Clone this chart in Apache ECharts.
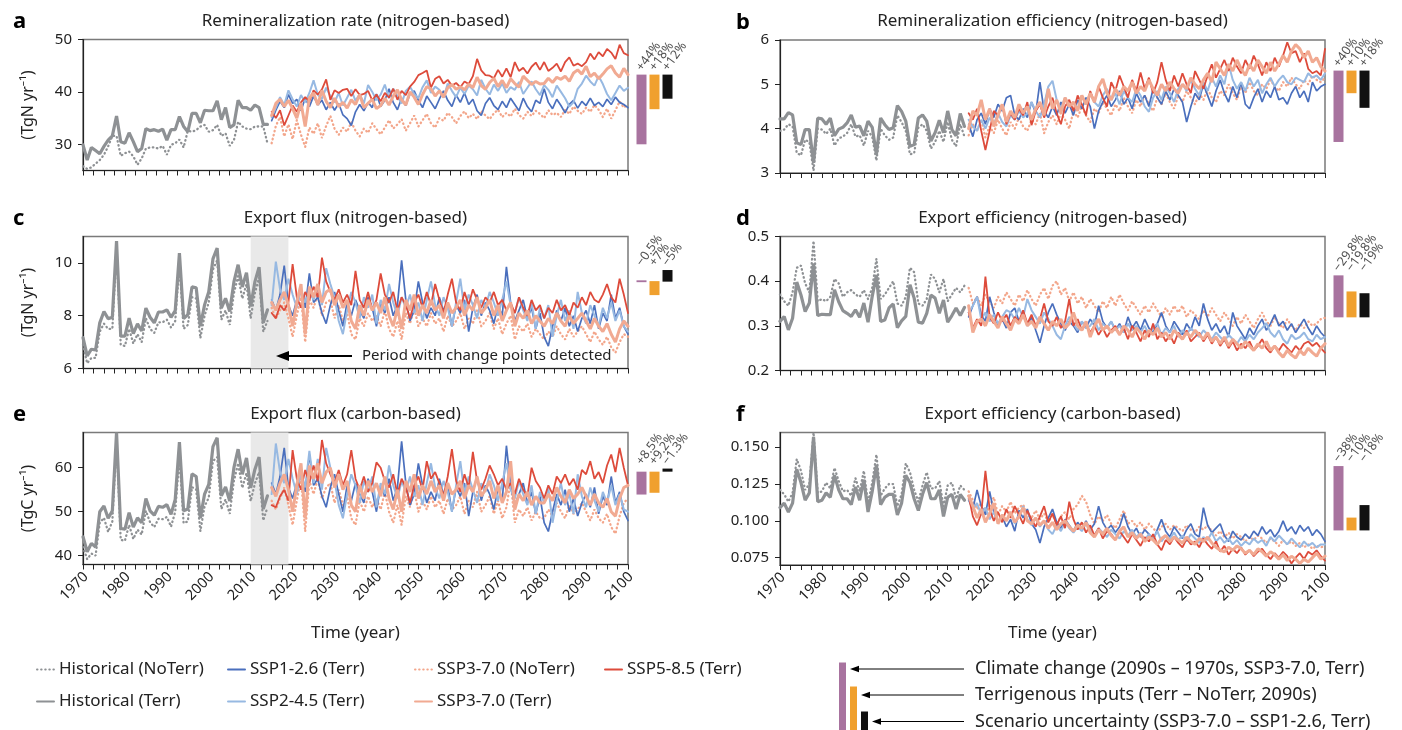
<!DOCTYPE html>
<html>
<head>
<meta charset="utf-8">
<script src="https://cdn.jsdelivr.net/npm/echarts@6/dist/echarts.min.js"></script>
<style>
html, body { margin: 0; padding: 0; background: #fff; }
#main { width: 1402px; height: 730px; }
</style>
</head>
<body>
<div id="main"></div>
<script>
// years: historical 1970-2014, scenarios 2015-2100
var histStart = 1970, histEnd = 2014, sspStart = 2015, sspEnd = 2100;
var xLabels = [1970, 1980, 1990, 2000, 2010, 2020, 2030, 2040, 2050, 2060, 2070, 2080, 2090, 2100];

// ---- a: remineralization rate (TgN/yr)
var aTicks = [30, 40, 50];
var aHistNoTerr = [25.8,25.3,25.6,26.3,27.0,28.0,29.6,31.6,31.6,27.8,
  28.3,28.6,27.7,26.1,27.3,29.2,29.4,29.4,29.2,29.7,
  28.0,29.9,30.2,30.9,29.4,32.6,32.4,32.7,33.4,33.7,
  32.4,32.7,33.7,31.6,32.1,29.7,30.8,34.3,33.4,33.0,
  32.9,33.4,33.4,33.4,30.2];
var aHistTerr = [29.9,27.0,29.4,28.8,28.2,29.6,30.8,31.6,35.4,30.5,
  30.2,32.2,30.5,28.6,29.2,33.0,32.6,32.8,32.5,32.9,
  30.8,32.8,32.8,35.3,33.4,32.4,35.9,35.9,34.1,36.5,
  36.4,36.4,38.3,34.7,37.0,33.2,33.7,38.4,37.0,37.0,
  36.5,37.5,37.0,33.8,33.8];
var a126 = [34.5,36.5,38.2,37.0,39.5,37.8,38.6,36.4,38.8,37.2,
  39.2,37.5,38.4,36.6,38.0,36.5,37.8,35.6,34.9,33.6,
  36.2,37.6,36.4,38.0,37.0,39.6,37.2,38.4,40.6,38.0,
  36.6,38.8,37.4,39.6,40.2,38.4,37.0,39.2,38.0,36.8,
  38.6,40.2,38.4,37.2,39.4,38.0,39.8,37.6,38.6,36.4,
  35.5,37.8,38.9,37.4,36.6,38.2,37.0,38.8,37.6,36.4,
  38.8,37.2,36.2,38.4,37.8,40.6,38.0,36.8,38.6,37.4,
  36.0,37.6,38.4,36.9,38.2,37.4,38.8,37.4,38.0,37.2,
  38.6,37.6,39.0,38.0,37.6,37.0];
var a245 = [35.2,37.0,39.0,37.5,40.3,38.6,37.2,39.4,38.0,39.8,
  42.2,39.5,38.6,40.8,39.2,38.0,39.8,37.4,38.9,40.4,
  38.3,39.6,37.8,41.3,40.0,38.4,39.5,41.4,38.8,40.6,
  39.2,37.8,40.2,41.0,39.6,38.8,40.9,42.2,39.8,41.0,
  40.4,38.9,41.6,40.2,39.0,40.8,39.6,41.2,40.5,39.3,
  42.3,40.6,39.5,41.4,40.2,41.6,39.8,40.9,40.4,41.9,
  39.6,40.8,42.0,40.5,39.4,41.3,40.4,39.0,41.2,40.0,
  38.8,37.2,38.0,40.6,41.6,43.1,42.0,41.2,43.0,41.5,
  39.6,38.4,39.8,41.2,40.2,40.8];
var a370No = [30.2,33.5,35.2,31.5,33.8,31.0,34.6,31.8,29.5,33.2,
  32.0,34.0,31.2,33.5,35.4,33.0,31.8,33.2,32.4,34.2,
  32.6,31.5,33.0,32.2,34.0,32.9,31.9,33.2,34.6,33.0,
  33.8,34.8,32.6,34.0,35.5,33.4,34.6,35.8,34.0,33.2,
  35.0,34.5,36.0,35.2,34.0,35.4,36.3,35.0,35.8,34.8,
  36.4,35.5,34.8,35.9,36.6,35.2,36.0,35.3,36.8,35.6,
  34.9,36.2,35.4,36.4,35.8,35.0,36.5,35.6,36.0,35.2,
  36.6,35.8,37.2,36.4,35.8,37.0,36.2,37.5,36.6,35.2,
  36.8,34.9,36.5,38.2,37.0,37.6];
var a585 = [36.2,35.0,36.5,33.6,35.5,37.4,36.2,38.0,39.0,38.2,
  40.3,39.5,40.5,42.4,38.5,40.3,39.8,40.4,40.6,39.2,
  40.5,39.4,39.6,40.2,38.4,39.5,38.2,39.8,38.9,40.6,
  38.5,40.2,39.4,41.0,41.9,43.2,43.6,44.1,40.8,42.5,
  43.0,41.6,42.3,41.2,41.7,40.9,42.0,41.5,43.0,46.3,
  44.1,43.2,43.1,42.6,44.2,42.9,44.5,42.8,45.7,44.0,
  44.6,43.5,44.8,45.6,44.2,45.7,44.0,44.6,45.4,43.9,
  45.7,46.6,45.0,45.4,44.9,45.7,47.3,46.2,47.6,46.8,
  48.2,47.5,46.3,49.0,47.4,47.0];
var a370 = [35.5,37.8,38.6,37.2,38.4,36.8,35.0,37.9,33.4,38.9,
  39.8,37.5,40.3,38.2,37.0,38.8,37.2,38.0,36.9,38.5,
  37.6,39.5,37.0,37.8,38.6,36.8,37.4,38.8,37.5,39.2,
  40.4,38.5,37.5,40.0,39.0,37.6,39.5,41.0,40.6,39.2,
  40.2,39.0,40.8,41.4,40.5,41.0,40.4,41.5,40.8,42.8,
  41.2,40.5,41.8,42.6,41.0,42.2,40.8,42.5,41.6,40.9,
  43.0,42.2,41.4,42.0,41.5,41.6,42.6,41.8,42.8,42.4,
  43.0,42.0,43.6,44.2,43.4,44.9,42.9,43.6,42.5,43.4,
  44.4,45.0,43.6,42.8,44.5,43.3];
var aBarLo = [30.0, 36.7, 38.7];
var aBarHi = [43.3, 43.3, 43.3];
var aBarTxt = ['+44%', '+18%', '+12%'];

// ---- b: remineralization efficiency
var bTicks = [3, 4, 5, 6];
var bHistNoTerr = [3.95,3.98,4.10,4.05,3.45,3.40,3.75,3.70,3.05,4.00,
  3.98,3.88,4.00,3.62,3.78,3.82,3.90,4.10,3.82,3.85,
  3.62,3.95,3.82,3.28,4.00,3.85,3.75,3.80,4.30,4.15,
  3.95,3.42,3.45,4.02,4.10,3.95,3.55,3.70,3.95,3.70,
  4.15,3.75,3.60,4.10,3.82];
var bHistTerr = [4.22,4.22,4.36,4.31,3.68,3.64,3.98,3.98,3.23,4.24,
  4.22,4.10,4.24,3.84,3.99,4.03,4.13,4.31,4.03,4.06,
  3.84,4.17,4.03,3.42,4.24,4.09,3.98,4.02,4.52,4.39,
  4.17,3.60,3.64,4.24,4.31,4.17,3.72,3.91,4.19,3.91,
  4.40,3.98,3.84,4.34,4.05];
var b126 = [4.10,3.82,4.20,4.35,4.10,4.45,4.25,4.55,4.40,4.70,
  4.75,4.30,4.20,4.45,4.25,4.60,4.35,5.05,4.40,4.25,
  4.50,4.30,4.60,4.35,4.55,4.30,4.65,4.45,4.70,4.50,
  4.00,4.40,4.60,4.75,4.50,4.65,4.85,4.55,4.70,4.45,
  4.80,4.60,4.75,4.50,4.90,4.70,4.55,4.85,4.65,4.90,
  4.75,4.60,4.15,4.50,4.80,4.65,5.00,4.75,4.50,4.85,
  5.10,4.80,4.60,4.95,4.70,5.05,4.55,4.45,4.70,4.90,
  4.60,4.85,4.70,4.95,4.65,4.70,4.55,4.80,4.95,4.70,
  4.85,4.60,5.05,4.85,4.95,5.00];
var b245 = [4.20,4.05,3.95,4.20,4.00,4.25,4.10,4.35,4.15,4.05,
  4.30,4.20,4.40,4.25,4.35,4.60,4.40,4.25,4.55,4.95,
  5.08,4.65,4.45,4.70,4.50,4.60,4.45,4.75,4.55,4.80,
  4.60,4.50,4.75,4.90,4.65,4.80,4.55,4.85,4.70,4.60,
  4.90,4.75,4.50,4.38,4.70,4.85,4.65,4.95,4.80,4.60,
  4.90,5.00,4.85,5.10,4.90,4.75,5.05,4.85,5.15,4.95,
  5.20,5.00,5.46,5.10,4.90,5.05,4.85,5.15,4.95,5.10,
  4.80,5.00,5.15,4.95,5.10,5.20,5.05,5.00,5.15,5.10,
  5.05,5.25,5.15,5.20,5.10,5.25];
var b370No = [3.85,4.10,3.95,4.20,3.80,4.05,3.90,4.20,4.00,3.85,
  4.15,4.00,4.25,4.05,3.95,4.20,4.10,4.35,3.90,4.15,
  4.30,4.10,4.35,4.20,4.00,4.40,4.25,4.50,4.30,4.15,
  4.45,4.35,4.60,4.45,4.30,4.55,4.40,4.70,4.50,4.35,
  4.65,4.50,4.75,4.55,4.40,4.70,4.55,4.80,4.60,4.45,
  4.75,4.60,4.85,4.70,4.55,4.80,4.65,4.90,4.70,4.60,
  4.85,4.75,5.00,4.80,4.65,4.95,4.80,5.05,4.85,4.75,
  5.00,4.90,5.10,4.95,4.85,5.05,4.95,5.15,5.00,4.90,
  5.10,5.00,5.20,5.10,5.05,5.15];
var b585 = [4.35,4.20,4.45,3.95,3.52,3.95,4.40,4.30,4.55,4.10,
  4.35,4.20,4.45,4.30,4.60,4.08,4.40,4.55,4.25,4.50,
  4.70,4.35,4.10,4.50,4.65,4.40,4.75,4.55,4.30,4.85,
  4.60,4.95,4.70,4.50,5.05,4.85,5.20,4.95,4.70,5.10,
  4.85,5.27,4.90,5.15,4.80,5.05,5.50,5.10,4.85,5.20,
  4.95,5.25,5.00,4.80,5.30,5.10,4.90,5.20,5.45,5.15,
  5.35,5.55,5.30,5.60,5.40,5.25,5.55,5.35,5.65,5.45,
  5.20,5.50,5.30,5.60,5.40,5.65,5.95,5.70,5.75,5.50,
  5.70,5.35,5.25,5.30,5.20,5.80];
var b370 = [4.00,4.40,4.30,4.65,4.20,4.45,4.05,4.30,4.55,4.15,
  4.40,4.25,4.55,4.35,4.50,4.20,4.45,4.60,4.30,4.90,
  4.45,4.65,4.35,4.70,4.50,4.60,4.40,4.75,4.55,4.80,
  4.60,4.95,5.12,4.80,4.65,4.90,4.75,4.95,4.85,5.05,
  4.80,4.95,4.85,5.10,4.90,4.75,5.00,4.85,5.05,4.90,
  4.80,5.00,4.90,5.15,5.00,4.90,5.10,5.25,5.05,5.50,
  5.35,5.20,5.45,5.30,5.55,5.35,5.20,5.45,5.30,5.55,
  5.40,5.25,5.50,5.30,5.46,5.65,5.50,5.75,5.90,5.80,
  5.60,5.75,5.50,5.60,5.40,5.30];
var bBarLo = [3.70, 4.80, 4.47];
var bBarHi = [5.31, 5.31, 5.31];
var bBarTxt = ['+40%', '+10%', '+18%'];

// ---- c: export flux, nitrogen (TgN/yr)
var cTicks = [6, 8, 10];
var cHistNoTerr = [6.90,6.20,6.40,6.40,7.40,7.70,7.50,7.50,10.50,6.90,
  6.85,7.50,6.95,7.30,7.00,7.90,7.50,7.35,7.75,7.75,
  7.85,7.55,7.80,9.95,7.50,7.65,8.70,8.65,7.15,8.00,
  8.50,9.75,10.10,7.85,8.20,7.65,8.85,9.50,8.65,9.20,
  7.90,8.85,9.45,7.40,7.80];
var cHistTerr = [7.17,6.48,6.73,6.70,7.73,8.16,7.89,7.94,10.83,7.23,
  7.23,7.91,7.32,7.69,7.42,8.29,7.94,7.73,8.14,8.14,
  8.22,7.94,8.19,10.37,7.89,8.04,9.09,9.06,7.60,8.41,
  8.91,10.15,10.56,8.29,8.66,8.16,9.28,9.93,9.09,9.63,
  8.35,9.28,9.84,7.73,8.22];
var c126 = [8.6,8.2,8.8,9.9,8.4,8.0,8.6,8.9,8.3,9.6,
  8.5,8.7,8.1,7.7,8.4,8.9,8.2,7.6,8.5,8.0,
  8.6,8.2,7.9,8.7,8.3,7.6,8.5,8.1,8.7,8.0,
  8.4,10.1,8.6,7.8,8.2,9.3,8.5,7.9,8.3,8.0,
  8.7,8.2,8.5,7.6,8.4,8.1,8.6,7.4,8.3,8.8,
  8.0,8.5,8.2,7.7,8.4,8.0,9.85,8.5,7.8,8.2,
  8.6,7.9,8.3,7.5,8.1,7.2,6.85,7.6,8.2,7.8,
  8.3,7.6,8.0,7.4,7.9,8.2,7.7,8.4,7.5,8.1,
  7.8,8.8,7.9,8.3,7.6,7.3];
var c245 = [8.4,10.05,9.0,8.6,9.4,8.8,8.3,9.0,8.5,8.9,
  8.6,9.1,8.4,9.8,9.2,8.7,7.8,7.3,8.2,8.9,
  8.5,7.9,8.7,8.3,8.8,7.7,8.6,8.2,9.2,8.5,
  8.0,8.7,8.3,8.8,8.1,8.5,7.8,8.6,9.3,8.4,
  8.0,8.7,8.3,7.6,8.5,9.4,8.2,8.8,8.4,7.9,
  8.6,8.3,8.9,8.5,8.0,8.6,9.3,8.4,8.1,8.7,
  8.2,7.8,8.5,7.5,8.3,7.9,8.4,7.2,8.0,8.6,
  7.8,8.2,7.5,8.9,8.1,7.7,8.4,8.0,7.6,8.3,
  7.9,8.5,7.8,8.2,7.6,7.4];
var c370No = [8.3,7.9,8.2,8.5,7.9,7.2,8.0,8.7,7.0,8.6,
  8.3,8.8,8.0,8.5,8.6,7.9,8.4,7.8,8.1,7.3,
  7.1,7.9,7.6,8.1,7.8,8.0,7.6,8.2,7.5,7.2,
  7.8,7.1,8.1,7.7,8.3,7.6,7.9,7.6,8.1,7.7,
  7.9,7.4,8.0,7.6,7.8,8.1,7.5,7.9,7.7,8.2,
  7.6,7.8,8.1,7.5,7.9,7.3,7.7,8.0,7.1,7.6,
  7.4,7.7,7.2,7.5,7.3,7.1,7.4,7.2,7.6,7.3,
  7.1,7.5,7.2,7.4,7.6,7.3,7.0,7.4,7.1,6.9,
  7.2,6.8,6.6,7.0,7.3,7.2];
var c585 = [8.1,7.9,8.4,8.2,8.5,9.95,8.7,8.3,8.9,8.6,
  9.1,8.7,10.2,9.3,8.9,8.6,9.0,8.5,8.8,8.4,
  9.7,8.6,8.3,8.9,8.2,8.6,9.6,8.8,8.5,8.9,
  8.2,8.7,8.4,7.9,8.5,8.8,8.3,8.9,8.4,9.2,
  8.6,8.1,8.8,9.4,8.5,8.2,8.9,8.4,9.0,8.6,
  8.3,8.7,8.5,8.9,8.4,8.6,8.2,8.5,8.1,8.7,
  8.3,8.0,8.6,8.2,8.4,7.9,8.3,8.1,8.6,8.2,
  8.4,8.0,8.5,8.3,8.7,8.4,8.9,8.6,8.5,8.8,
  9.2,8.7,8.5,9.4,8.8,8.1];
var c370 = [8.5,8.2,8.6,8.9,8.4,7.6,8.5,9.2,7.3,9.1,
  8.7,9.2,8.5,8.9,9.0,8.4,8.8,8.3,8.6,7.8,
  7.5,8.4,8.0,8.6,8.2,8.5,8.1,8.7,8.0,7.6,
  8.3,7.5,8.6,8.2,8.8,8.0,8.4,8.1,8.6,8.2,
  8.4,7.9,8.5,8.1,8.3,8.6,8.0,8.4,8.2,8.7,
  8.1,8.3,8.6,8.0,8.4,7.8,8.2,8.5,7.6,8.1,
  7.9,8.2,7.7,8.0,7.8,7.6,7.9,7.7,8.1,7.8,
  7.6,8.0,7.7,7.9,8.1,7.8,7.5,7.9,7.6,7.4,
  7.7,7.3,7.0,7.5,7.8,7.6];
var cBarLo = [9.27, 8.78, 9.29];
var cBarHi = [9.34, 9.31, 9.73];
var cBarTxt = ['\u22120.5%', '+7%', '\u22125%'];

// ---- d: export efficiency, nitrogen
var dTicks = [0.2, 0.3, 0.4, 0.5];
var dHistNoTerr = [0.370,0.355,0.345,0.375,0.430,0.435,0.395,0.375,0.490,0.355,
  0.360,0.355,0.365,0.405,0.395,0.365,0.375,0.380,0.370,0.365,
  0.380,0.360,0.385,0.450,0.360,0.370,0.385,0.400,0.350,0.345,
  0.365,0.430,0.420,0.350,0.345,0.360,0.415,0.405,0.375,0.405,
  0.355,0.370,0.385,0.375,0.390];
var dHistTerr = [0.310,0.321,0.291,0.317,0.398,0.369,0.332,0.351,0.440,0.323,
  0.326,0.325,0.325,0.381,0.354,0.334,0.328,0.321,0.336,0.319,
  0.351,0.308,0.366,0.414,0.310,0.313,0.340,0.349,0.296,0.311,
  0.321,0.392,0.362,0.308,0.306,0.328,0.369,0.362,0.328,0.358,
  0.308,0.323,0.340,0.323,0.341];
var d126 = [0.320,0.345,0.365,0.325,0.310,0.365,0.330,0.300,0.315,0.295,
  0.330,0.340,0.310,0.325,0.300,0.320,0.290,0.262,0.300,0.330,
  0.350,0.325,0.305,0.290,0.310,0.300,0.285,0.310,0.295,0.315,
  0.300,0.345,0.310,0.295,0.310,0.290,0.305,0.285,0.320,0.295,
  0.310,0.290,0.315,0.295,0.285,0.305,0.330,0.300,0.285,0.310,
  0.295,0.280,0.305,0.290,0.320,0.300,0.350,0.315,0.290,0.305,
  0.285,0.300,0.275,0.330,0.300,0.285,0.270,0.295,0.280,0.300,
  0.315,0.290,0.305,0.325,0.300,0.310,0.290,0.305,0.285,0.300,
  0.315,0.295,0.280,0.300,0.285,0.275];
var d245 = [0.330,0.345,0.365,0.315,0.330,0.310,0.325,0.305,0.320,0.335,
  0.330,0.315,0.340,0.320,0.360,0.335,0.320,0.305,0.330,0.315,
  0.300,0.280,0.270,0.300,0.320,0.305,0.290,0.310,0.295,0.300,
  0.315,0.290,0.305,0.295,0.310,0.290,0.300,0.285,0.305,0.290,
  0.300,0.285,0.300,0.280,0.295,0.305,0.280,0.295,0.285,0.300,
  0.275,0.290,0.280,0.295,0.285,0.275,0.290,0.280,0.270,0.285,
  0.275,0.265,0.280,0.270,0.260,0.275,0.265,0.280,0.270,0.285,
  0.295,0.306,0.285,0.275,0.290,0.270,0.260,0.280,0.270,0.275,
  0.285,0.270,0.265,0.280,0.270,0.275];
var d370No = [0.385,0.350,0.365,0.345,0.370,0.355,0.340,0.365,0.350,0.375,
  0.360,0.345,0.370,0.355,0.380,0.360,0.345,0.370,0.385,0.360,
  0.390,0.400,0.370,0.385,0.355,0.375,0.350,0.365,0.340,0.360,
  0.345,0.330,0.355,0.340,0.365,0.345,0.370,0.350,0.335,0.355,
  0.340,0.325,0.345,0.330,0.350,0.335,0.320,0.340,0.325,0.345,
  0.330,0.345,0.320,0.335,0.325,0.315,0.335,0.320,0.340,0.325,
  0.310,0.330,0.315,0.300,0.320,0.305,0.325,0.310,0.295,0.315,
  0.330,0.310,0.300,0.320,0.305,0.295,0.315,0.300,0.290,0.305,
  0.295,0.310,0.300,0.305,0.315,0.318];
var d585 = [0.330,0.295,0.315,0.300,0.410,0.320,0.305,0.330,0.310,0.325,
  0.300,0.320,0.310,0.335,0.305,0.325,0.300,0.315,0.350,0.310,
  0.300,0.320,0.295,0.310,0.360,0.300,0.315,0.290,0.305,0.285,
  0.300,0.280,0.295,0.275,0.290,0.300,0.280,0.295,0.270,0.300,
  0.285,0.265,0.290,0.275,0.305,0.270,0.285,0.265,0.280,0.260,
  0.285,0.270,0.290,0.265,0.275,0.285,0.265,0.280,0.260,0.275,
  0.255,0.270,0.250,0.265,0.245,0.260,0.250,0.265,0.245,0.255,
  0.270,0.250,0.240,0.255,0.245,0.260,0.250,0.240,0.255,0.245,
  0.260,0.265,0.255,0.262,0.250,0.240];
var d370 = [0.345,0.285,0.310,0.315,0.300,0.325,0.310,0.295,0.320,0.305,
  0.290,0.315,0.305,0.325,0.300,0.310,0.295,0.320,0.305,0.290,
  0.310,0.300,0.315,0.295,0.305,0.330,0.300,0.290,0.310,0.275,
  0.300,0.315,0.290,0.300,0.285,0.295,0.280,0.300,0.290,0.275,
  0.295,0.285,0.270,0.290,0.280,0.295,0.275,0.285,0.270,0.290,
  0.280,0.270,0.285,0.275,0.290,0.280,0.270,0.285,0.265,0.275,
  0.260,0.275,0.255,0.270,0.260,0.250,0.265,0.255,0.245,0.260,
  0.250,0.265,0.245,0.255,0.240,0.230,0.245,0.235,0.228,0.245,
  0.235,0.250,0.240,0.232,0.250,0.260];
var dBarLo = [0.319, 0.319, 0.319];
var dBarHi = [0.413, 0.377, 0.373];
var dBarTxt = ['\u221229.8%', '\u221219.8%', '\u221219%'];

// ---- e: export flux, carbon (TgC/yr)
var eTicks = [40, 50, 60];
var eHistNoTerr = [42.0,39.2,40.5,40.0,47.5,48.6,45.4,47.8,66.0,43.6,
  43.4,47.0,43.8,45.9,44.8,50.2,47.6,46.5,48.4,48.3,
  48.8,46.6,50.0,62.5,47.4,47.8,55.6,55.0,45.6,51.2,
  53.2,61.5,62.4,50.6,52.8,49.5,57.0,61.0,55.4,58.8,
  52.4,56.4,59.0,48.0,51.0];
var eHistTerr = [44.3,40.9,42.8,42.0,50.0,51.3,48.5,50.2,68.0,46.2,
  46.0,49.8,46.5,48.6,47.5,53.0,50.2,49.2,51.2,51.0,
  51.6,49.4,52.8,65.8,50.2,50.6,58.6,58.0,48.5,54.0,
  56.2,64.8,66.8,53.6,55.6,52.4,60.0,64.2,58.5,62.2,
  55.4,59.6,62.4,50.6,53.6];
var e126 = [56.5,54.0,58.0,64.5,55.5,53.0,56.5,58.5,54.5,63.0,
  56.0,57.5,53.5,51.0,55.5,58.5,54.0,50.0,56.0,52.5,
  56.5,54.0,52.0,57.5,54.5,50.0,56.0,53.5,57.5,52.5,
  55.5,66.0,56.5,51.5,54.0,61.0,56.0,52.0,54.5,52.5,
  57.5,54.0,56.0,50.0,55.5,53.5,56.5,49.0,54.5,58.0,
  52.5,56.0,54.0,50.5,55.5,52.5,65.0,56.0,51.5,54.0,
  56.5,52.0,54.5,49.5,53.5,47.5,45.5,50.0,54.0,51.5,
  55.0,50.0,53.0,49.0,52.0,54.0,51.0,55.5,49.5,53.5,
  51.5,58.0,52.0,54.5,50.0,48.0];
var e245 = [54.0,65.5,59.0,56.5,62.0,57.5,54.0,59.0,55.5,63.8,
  56.5,62.0,55.0,64.5,60.0,57.0,51.5,48.5,54.0,58.5,
  56.0,52.0,57.0,54.5,58.0,51.0,56.5,54.0,60.5,56.0,
  53.0,57.0,54.5,58.0,53.5,56.0,51.5,56.5,61.0,55.5,
  53.0,57.0,54.5,50.0,56.0,61.5,54.0,58.0,55.0,52.0,
  56.5,54.5,58.5,56.0,52.5,56.5,61.0,55.0,53.0,57.0,
  54.0,51.5,56.0,49.5,54.5,52.0,55.5,47.5,52.5,56.5,
  51.5,54.0,49.5,58.5,53.5,51.0,55.5,52.5,50.0,54.5,
  52.0,56.0,51.5,54.0,50.5,50.0];
var e370No = [52.5,50.5,53.0,55.5,51.5,47.0,52.5,57.5,45.5,57.0,
  54.0,57.5,53.0,55.5,56.5,52.0,55.0,51.5,53.5,48.5,
  47.0,52.5,50.0,53.5,51.0,53.0,50.5,54.5,50.0,47.5,
  51.5,47.0,53.5,51.0,55.0,50.0,52.5,50.5,53.5,51.0,
  52.5,49.5,53.0,50.5,51.5,53.5,49.5,52.5,51.0,54.5,
  50.0,51.5,53.5,49.5,52.5,48.5,51.0,57.0,47.5,50.5,
  49.0,51.0,48.0,50.0,48.5,48.5,50.5,49.0,52.0,50.0,
  48.5,51.5,49.5,50.5,52.0,50.0,48.0,50.5,48.5,47.5,
  49.5,46.5,45.0,49.0,52.0,53.0];
var e585 = [51.5,51.0,53.5,55.0,52.5,64.0,57.5,55.0,59.5,56.5,
  60.5,57.0,66.3,61.0,58.5,56.5,59.5,56.0,58.5,64.0,
  57.5,55.0,58.0,54.5,56.5,61.2,60.0,57.0,55.5,58.5,
  54.0,57.5,55.5,52.0,56.0,58.0,55.0,61.5,57.5,59.0,
  56.5,53.5,58.0,64.2,57.0,54.5,58.5,55.5,63.6,57.0,
  55.0,57.5,60.5,58.5,56.0,57.5,55.0,56.5,54.0,57.5,
  55.0,53.5,60.0,57.0,55.5,53.0,56.0,54.0,58.0,56.5,
  58.5,56.0,57.5,55.0,59.5,58.5,61.5,57.5,59.0,56.5,
  60.5,63.0,59.0,64.5,60.0,56.0];
var e370 = [55.5,53.5,56.5,58.5,55.0,50.0,56.0,61.0,48.5,60.5,
  57.5,61.0,56.5,59.0,60.0,55.5,58.5,55.0,57.0,51.5,
  50.0,56.0,53.0,57.0,54.5,56.5,53.5,58.0,53.0,50.5,
  55.0,50.0,57.0,54.5,58.5,53.0,56.0,54.0,57.0,54.5,
  56.0,52.5,56.5,54.0,55.0,57.0,53.0,56.0,54.5,58.0,
  53.5,55.0,57.0,53.0,56.0,52.0,54.5,61.5,50.5,54.0,
  52.5,54.5,51.5,53.5,52.0,52.0,54.0,52.5,55.5,53.5,
  52.0,55.0,53.0,54.0,55.5,53.5,51.5,54.0,52.0,51.0,
  53.0,50.0,49.0,53.0,55.5,56.0];
var eBarLo = [53.9, 54.3, 59.1];
var eBarHi = [59.1, 59.1, 59.8];
var eBarTxt = ['+8.5%', '+9.2%', '\u22121.3%'];

// ---- f: export efficiency, carbon
var fTicks = [0.075, 0.100, 0.125, 0.150];
var fHistNoTerr = [0.121,0.118,0.113,0.119,0.142,0.134,0.121,0.125,0.160,0.119,
  0.120,0.126,0.122,0.136,0.127,0.120,0.121,0.117,0.129,0.120,
  0.134,0.112,0.126,0.145,0.117,0.122,0.125,0.125,0.110,0.118,
  0.139,0.133,0.121,0.113,0.124,0.133,0.122,0.122,0.127,0.110,
  0.124,0.126,0.115,0.124,0.121];
var fHistTerr = [0.109,0.112,0.106,0.112,0.135,0.126,0.114,0.119,0.157,0.113,
  0.114,0.119,0.116,0.131,0.121,0.115,0.115,0.111,0.123,0.114,
  0.128,0.106,0.120,0.138,0.111,0.116,0.118,0.118,0.104,0.112,
  0.131,0.126,0.115,0.107,0.118,0.126,0.115,0.115,0.121,0.103,
  0.116,0.118,0.108,0.118,0.114];
var f126 = [0.114,0.108,0.121,0.110,0.104,0.120,0.106,0.099,0.103,0.096,
  0.101,0.093,0.107,0.102,0.108,0.098,0.094,0.085,0.096,0.102,
  0.108,0.099,0.095,0.101,0.097,0.093,0.099,0.095,0.100,0.094,
  0.098,0.110,0.099,0.094,0.097,0.092,0.096,0.105,0.096,0.091,
  0.095,0.089,0.094,0.091,0.087,0.094,0.101,0.093,0.089,0.096,
  0.092,0.088,0.094,0.098,0.091,0.089,0.109,0.097,0.092,0.095,
  0.098,0.090,0.086,0.093,0.089,0.087,0.091,0.088,0.093,0.090,
  0.096,0.091,0.094,0.089,0.093,0.100,0.093,0.096,0.091,0.097,
  0.093,0.096,0.090,0.094,0.091,0.086];
var f245 = [0.115,0.108,0.112,0.104,0.109,0.101,0.106,0.099,0.104,0.100,
  0.106,0.098,0.103,0.110,0.101,0.097,0.102,0.096,0.100,0.094,
  0.091,0.097,0.093,0.099,0.095,0.092,0.096,0.093,0.098,0.094,
  0.090,0.095,0.092,0.089,0.094,0.091,0.088,0.093,0.090,0.094,
  0.089,0.092,0.087,0.091,0.088,0.093,0.086,0.090,0.088,0.092,
  0.087,0.090,0.086,0.091,0.088,0.085,0.089,0.087,0.092,0.086,
  0.089,0.085,0.088,0.084,0.087,0.083,0.086,0.084,0.088,0.085,
  0.087,0.083,0.089,0.086,0.090,0.087,0.084,0.088,0.085,0.082,
  0.086,0.083,0.085,0.082,0.084,0.084];
var f370No = [0.120,0.114,0.108,0.112,0.104,0.110,0.116,0.104,0.110,0.106,
  0.113,0.105,0.109,0.111,0.104,0.102,0.107,0.101,0.105,0.099,
  0.104,0.098,0.103,0.106,0.101,0.108,0.111,0.117,0.113,0.104,
  0.098,0.103,0.100,0.104,0.098,0.095,0.101,0.107,0.098,0.100,
  0.096,0.099,0.094,0.098,0.095,0.092,0.096,0.098,0.094,0.097,
  0.095,0.093,0.097,0.094,0.092,0.096,0.094,0.097,0.093,0.090,
  0.093,0.089,0.092,0.088,0.091,0.089,0.086,0.089,0.087,0.090,
  0.088,0.085,0.088,0.086,0.083,0.087,0.084,0.086,0.083,0.085,
  0.082,0.084,0.081,0.083,0.082,0.083];
var f585 = [0.117,0.103,0.097,0.105,0.134,0.108,0.100,0.106,0.099,0.108,
  0.102,0.110,0.104,0.098,0.107,0.101,0.096,0.103,0.110,0.099,
  0.105,0.097,0.103,0.095,0.113,0.101,0.094,0.099,0.092,0.097,
  0.090,0.095,0.088,0.093,0.091,0.087,0.093,0.089,0.085,0.091,
  0.087,0.083,0.089,0.086,0.091,0.084,0.080,0.087,0.084,0.089,
  0.085,0.082,0.088,0.084,0.086,0.082,0.088,0.084,0.081,0.086,
  0.079,0.083,0.077,0.081,0.078,0.082,0.077,0.080,0.076,0.079,
  0.081,0.077,0.074,0.078,0.075,0.079,0.076,0.071,0.075,0.078,
  0.074,0.079,0.077,0.080,0.076,0.073];
var f370 = [0.117,0.110,0.102,0.108,0.099,0.105,0.112,0.098,0.104,0.100,
  0.106,0.099,0.103,0.109,0.100,0.098,0.102,0.097,0.100,0.095,
  0.099,0.094,0.098,0.100,0.096,0.093,0.097,0.095,0.099,0.092,
  0.089,0.094,0.091,0.095,0.090,0.087,0.093,0.096,0.089,0.092,
  0.088,0.091,0.086,0.089,0.087,0.084,0.088,0.090,0.086,0.089,
  0.087,0.085,0.089,0.086,0.084,0.088,0.086,0.089,0.085,0.082,
  0.080,0.079,0.082,0.080,0.083,0.081,0.078,0.080,0.077,0.081,
  0.079,0.076,0.079,0.077,0.074,0.077,0.073,0.076,0.074,0.071,
  0.074,0.072,0.075,0.078,0.074,0.076];
var fBarLo = [0.0935, 0.0935, 0.0935];
var fBarHi = [0.1372, 0.1022, 0.1107];
var fBarTxt = ['\u221238%', '\u221210%', '\u221218%'];

var FONT = "'Noto Sans', 'Liberation Sans', sans-serif";
var TXT = '#222';
var barColors = ['#a8739f', '#f0a02e', '#111111'];

var histYears = [], sspYears = [];
for (var yy = histStart; yy <= histEnd; yy++) histYears.push(yy);
for (var yy = sspStart; yy <= sspEnd; yy++) sspYears.push(yy);
function xy(years, vals) {
  return vals.map(function (v, i) { return [years[i], v]; });
}

// one entry per panel; layout in pixels
var panels = [
  {title: 'Remineralization rate (nitrogen-based)', letter: 'a', unit: '(TgN yr\u207B\u00B9)', left: 83, top: 39.5, height: 131,
   min: 25, max: 50, ticks: aTicks, dec: 0, hist: [aHistNoTerr, aHistTerr], ssp: [a126, a245, a370No, a585, a370],
   lo: aBarLo, hi: aBarHi, txt: aBarTxt, xlab: false, shade: false},
  {title: 'Remineralization efficiency (nitrogen-based)', letter: 'b', unit: '', left: 780, top: 40, height: 133,
   min: 3, max: 6, ticks: bTicks, dec: 0, hist: [bHistNoTerr, bHistTerr], ssp: [b126, b245, b370No, b585, b370],
   lo: bBarLo, hi: bBarHi, txt: bBarTxt, xlab: false, shade: false},
  {title: 'Export flux (nitrogen-based)', letter: 'c', unit: '(TgN yr\u207B\u00B9)', left: 83, top: 236.5, height: 132,
   min: 6, max: 11, ticks: cTicks, dec: 0, hist: [cHistNoTerr, cHistTerr], ssp: [c126, c245, c370No, c585, c370],
   lo: cBarLo, hi: cBarHi, txt: cBarTxt, xlab: false, shade: true},
  {title: 'Export efficiency (nitrogen-based)', letter: 'd', unit: '', left: 780, top: 236.5, height: 134,
   min: 0.2, max: 0.5, ticks: dTicks, dec: 1, hist: [dHistNoTerr, dHistTerr], ssp: [d126, d245, d370No, d585, d370],
   lo: dBarLo, hi: dBarHi, txt: dBarTxt, xlab: false, shade: false},
  {title: 'Export flux (carbon-based)', letter: 'e', unit: '(TgC yr\u207B\u00B9)', left: 83, top: 432.5, height: 132,
   min: 38, max: 68, ticks: eTicks, dec: 0, hist: [eHistNoTerr, eHistTerr], ssp: [e126, e245, e370No, e585, e370],
   lo: eBarLo, hi: eBarHi, txt: eBarTxt, xlab: true, shade: true},
  {title: 'Export efficiency (carbon-based)', letter: 'f', unit: '', left: 780, top: 432.5, height: 132.5,
   min: 0.07, max: 0.16, ticks: fTicks, dec: 3, hist: [fHistNoTerr, fHistTerr], ssp: [f126, f245, f370No, f585, f370],
   lo: fBarLo, hi: fBarHi, txt: fBarTxt, xlab: true, shade: false}
];
var plotW = 545;

// line styles; order of drawing = order here
var DOTS = [0.5, 3.6];
var histDefs = [
  {name: 'Historical (NoTerr)', color: '#8e9194', width: 2.3, type: DOTS},
  {name: 'Historical (Terr)', color: '#8e9194', width: 3.2, type: 'solid'}
];
var sspDefs = [
  {name: 'SSP1-2.6 (Terr)', color: '#4a6fbd', width: 1.7, type: 'solid'},
  {name: 'SSP2-4.5 (Terr)', color: '#97b9e2', width: 2, type: 'solid'},
  {name: 'SSP3-7.0 (NoTerr)', color: '#f3a68b', width: 2.3, type: DOTS},
  {name: 'SSP5-8.5 (Terr)', color: '#dd4b3b', width: 1.8, type: 'solid'},
  {name: 'SSP3-7.0 (Terr)', color: '#f1aa92', width: 3, type: 'solid'}
];
var drawOrder = [2, 0, 1, 3, 4];

var grids = [], xAxes = [], yAxes = [], series = [], graphics = [];

panels.forEach(function (p, i) {
  var li = 2 * i, bi = 2 * i + 1;   // line grid, bar grid
  grids.push({left: p.left, top: p.top, width: plotW, height: p.height, show: true,
    borderColor: '#7a7a7a', borderWidth: 1.5, backgroundColor: 'transparent'});
  xAxes.push({gridIndex: li, type: 'value', position: 'bottom', min: 1970, max: 2100, interval: 10,
    axisLine: {onZero: false, lineStyle: {color: TXT, width: 1.2}},
    axisTick: {length: 5, lineStyle: {color: TXT}},
    minorTick: {show: true, splitNumber: 4, length: 5, lineStyle: {color: TXT}},
    splitLine: {show: false}, minorSplitLine: {show: false},
    axisLabel: {show: false},
    name: p.xlab ? 'Time (year)' : '', nameLocation: 'middle', nameGap: 60,
    nameTextStyle: {fontSize: 17, color: TXT, fontFamily: FONT}});
  yAxes.push({gridIndex: li, type: 'value', min: p.min, max: p.max,
    axisLine: {show: true, onZero: false, lineStyle: {color: TXT, width: 1.2}},
    axisTick: {show: true, length: 5, customValues: p.ticks, lineStyle: {color: TXT}},
    axisLabel: {customValues: p.ticks, fontSize: 15, color: TXT, margin: 11, fontFamily: FONT,
      formatter: (function (dec) { return function (v) { return Number(v).toFixed(dec); }; })(p.dec)},
    splitLine: {show: false},
    name: p.unit, nameLocation: 'middle', nameGap: 47,
    nameTextStyle: {fontSize: 16, color: TXT, fontFamily: FONT}});

  histDefs.forEach(function (d, k) {
    var s = {name: d.name, type: 'line', xAxisIndex: li, yAxisIndex: li, data: xy(histYears, p.hist[k]),
      symbol: 'none', color: d.color, lineStyle: {color: d.color, width: d.width, type: d.type, cap: 'round'},
      silent: true, z: 2};
    if (k === 1 && p.shade) {
      s.markArea = {silent: true, itemStyle: {color: '#e9e9e9'}, data: [[{xAxis: 2010}, {xAxis: 2019}]]};
    }
    series.push(s);
  });
  drawOrder.forEach(function (k) {
    var d = sspDefs[k];
    series.push({name: d.name, type: 'line', xAxisIndex: li, yAxisIndex: li, data: xy(sspYears, p.ssp[k]),
      symbol: 'none', color: d.color, lineStyle: {color: d.color, width: d.width, type: d.type, cap: 'round'},
      silent: true, z: 3});
  });

  // small floating bars to the right of each panel
  grids.push({left: p.left + plotW + 7, top: p.top, width: 39, height: p.height});
  xAxes.push({gridIndex: bi, type: 'category', data: ['cc', 'ti', 'su'], show: false});
  yAxes.push({gridIndex: bi, type: 'value', min: p.min, max: p.max, show: false, splitLine: {show: false}});
  series.push({type: 'bar', stack: 'bar' + i, xAxisIndex: bi, yAxisIndex: bi, barWidth: 10, silent: true,
    itemStyle: {color: 'rgba(0,0,0,0)'}, data: p.lo});
  series.push({type: 'bar', stack: 'bar' + i, xAxisIndex: bi, yAxisIndex: bi, barWidth: 10, silent: true,
    data: p.lo.map(function (lo, k) { return {value: p.hi[k] - lo, itemStyle: {color: barColors[k]}}; })});
  var topVal = Math.max.apply(null, p.hi);
  series.push({type: 'scatter', xAxisIndex: bi, yAxisIndex: bi, symbolSize: 1, silent: true,
    itemStyle: {color: 'rgba(0,0,0,0)'},
    data: [[0, topVal], [1, topVal], [2, topVal]],
    label: {show: true, position: 'top', distance: 8, rotate: 54, align: 'left', verticalAlign: 'middle',
      offset: [-4, 0], fontSize: 12.5, color: TXT, fontFamily: FONT,
      formatter: (function (t) { return function (pr) { return t[pr.dataIndex]; }; })(p.txt)}});

  // panel title and letter
  var titleY = p.top - 18.5;
  graphics.push({type: 'text', x: p.left + plotW / 2, y: titleY, z: 100,
    style: {text: p.title, fontSize: 17, fontFamily: FONT, fill: TXT, align: 'center', verticalAlign: 'middle'}});
  graphics.push({type: 'text', x: p.left < 400 ? 13 : 736, y: titleY + 1, z: 100,
    style: {text: p.letter, fontSize: 22, fontWeight: 'bold', fontFamily: FONT, fill: '#000', align: 'left', verticalAlign: 'middle'}});
});

// annotation in panel c
graphics.push({type: 'line', z: 100, shape: {x1: 352, y1: 356, x2: 284, y2: 356}, style: {stroke: '#000', lineWidth: 2}});
graphics.push({type: 'polygon', z: 100, shape: {points: [[276, 356], [289, 351], [289, 361]]}, style: {fill: '#000'}});
graphics.push({type: 'text', x: 362, y: 356, z: 100,
  style: {text: 'Period with change points detected', fontSize: 15, fontFamily: FONT, fill: TXT, verticalAlign: 'middle'}});

// key for the floating bars
var keyBars = [[839, 662.5], [850, 686.5], [861, 711.5]];
var keyText = ['Climate change (2090s \u2013 1970s, SSP3-7.0, Terr)',
  'Terrigenous inputs (Terr \u2013 NoTerr, 2090s)',
  'Scenario uncertainty (SSP3-7.0 \u2013 SSP1-2.6, Terr)'];
var keyY = [669, 695, 721.5];
keyBars.forEach(function (b, k) {
  graphics.push({type: 'rect', z: 100, shape: {x: b[0], y: b[1], width: 7, height: 730 - b[1]}, style: {fill: barColors[k]}});
  var tip = b[0] + 11;
  graphics.push({type: 'line', z: 100, shape: {x1: 964, y1: keyY[k], x2: tip + 6, y2: keyY[k]}, style: {stroke: '#000', lineWidth: 1}});
  graphics.push({type: 'polygon', z: 100, shape: {points: [[tip, keyY[k]], [tip + 9, keyY[k] - 3.2], [tip + 9, keyY[k] + 3.2]]}, style: {fill: '#000'}});
  graphics.push({type: 'text', x: 975, y: keyY[k], z: 100,
    style: {text: keyText[k], fontSize: 18, fontFamily: FONT, fill: TXT, verticalAlign: 'middle'}});
});

var legendBase = {orient: 'vertical', top: 656, itemGap: 15, itemWidth: 17, itemHeight: 12, selectedMode: false,
  itemStyle: {opacity: 0}, textStyle: {fontSize: 17, color: TXT, fontFamily: FONT}};
function leg(left, names) {
  var o = {}; for (var k in legendBase) o[k] = legendBase[k];
  o.left = left; o.data = names; return o;
}

var option = {
  animation: false,
  backgroundColor: '#fff',
  textStyle: {fontFamily: FONT},
  grid: grids,
  xAxis: xAxes,
  yAxis: yAxes,
  legend: [
    leg(31, ['Historical (NoTerr)', 'Historical (Terr)']),
    leg(222, ['SSP1-2.6 (Terr)', 'SSP2-4.5 (Terr)']),
    leg(409, ['SSP3-7.0 (NoTerr)', 'SSP3-7.0 (Terr)']),
    leg(599, ['SSP5-8.5 (Terr)'])
  ],
  series: series,
  graphic: graphics
};

var chart = echarts.init(document.getElementById('main'));
chart.setOption(option);

// rotated year labels, placed with the x axis scale of the bottom panels
var yearLabels = [];
panels.forEach(function (p, i) {
  if (!p.xlab) return;
  var yBase = p.top + p.height + 10;
  xLabels.forEach(function (yr) {
    var px = chart.convertToPixel({xAxisIndex: 2 * i}, yr);
    yearLabels.push({type: 'text', x: px + 3, y: yBase, rotation: Math.PI / 4, z: 100,
      style: {text: String(yr), fontSize: 14.5, fontFamily: FONT, fill: TXT, align: 'right', verticalAlign: 'middle'}});
  });
});
chart.setOption({graphic: graphics.concat(yearLabels)});
</script>
</body>
</html>
